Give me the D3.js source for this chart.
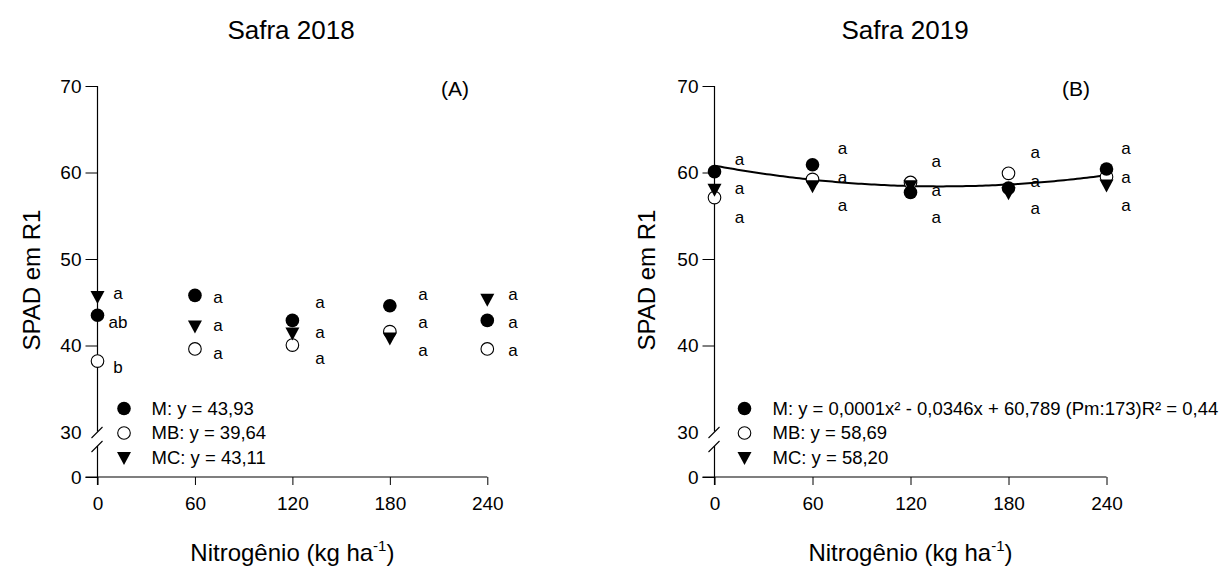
<!DOCTYPE html>
<html>
<head>
<meta charset="utf-8">
<script src="https://cdn.jsdelivr.net/npm/d3@7"></script>
<style>
  html, body { margin: 0; padding: 0; background: #fff; }
  svg { display: block; font-family: "Liberation Sans", Arial, sans-serif; }
  text { fill: #000; }
</style>
</head>
<body>
<svg id="chart" width="1223" height="566"></svg>
<script>
// Nitrogen doses (kg ha-1)
const doses = [0, 60, 120, 180, 240];
const yTicks = [30, 40, 50, 60, 70];

// Safra 2018 — SPAD readings at R1
const m2018  = [43.5, 45.8, 42.9, 44.6, 42.9];
const mb2018 = [38.2, 39.6, 40.05, 41.6, 39.6];
const mc2018 = [45.6, 42.2, 41.4, 40.8, 45.3];

// Safra 2019 — SPAD readings at R1
const m2019  = [60.1, 60.9, 57.7, 58.2, 60.4];
const mb2019 = [57.1, 59.2, 58.85, 59.9, 59.5];
const mc2019 = [58.0, 58.4, 58.4, 57.6, 58.5];

// Quadratic fit for M in 2019: y = a x^2 + b x + c
const fit2019 = { a: 0.000125, b: -0.0346, c: 60.789 };

// Tukey letters, anchored in data units (dose, SPAD)
const letters2018 = [
  { x: 12.6,  ys: [46.1, 42.75, 37.55], t: ["a", "ab", "b"] },
  { x: 74.2,  ys: [45.65, 42.4, 39.15], t: ["a", "a", "a"] },
  { x: 137,   ys: [45.05, 41.6, 38.5],  t: ["a", "a", "a"] },
  { x: 200.4, ys: [46.0, 42.75, 39.5],  t: ["a", "a", "a"] },
  { x: 255.8, ys: [46.0, 42.75, 39.5],  t: ["a", "a", "a"] }
];
const letters2019 = [
  { x: 15.3,  ys: [61.52, 58.17, 54.89], t: ["a", "a", "a"] },
  { x: 78.4,  ys: [62.8, 59.45, 56.24],  t: ["a", "a", "a"] },
  { x: 135.7, ys: [61.36, 57.98, 54.89], t: ["a", "a", "a"] },
  { x: 196.3, ys: [62.4, 59.05, 55.86],  t: ["a", "a", "a"] },
  { x: 252,   ys: [62.8, 59.45, 56.24],  t: ["a", "a", "a"] }
];

const legend2018 = ["M: y = 43,93", "MB: y = 39,64", "MC: y = 43,11"];
const legend2019 = ["M: y = 0,0001x\u00B2 - 0,0346x + 60,789 (Pm:173)R\u00B2 = 0,44", "MB: y = 58,69", "MC: y = 58,20"];

const svg = d3.select("#chart");

const triPath = "M-7,-6L7,-6L0,7Z";

function drawMarker(g, kind, cx, cy) {
  if (kind === "M") {
    g.append("circle").attr("cx", cx).attr("cy", cy).attr("r", 6.8).attr("fill", "#000");
  } else if (kind === "MB") {
    g.append("circle").attr("cx", cx).attr("cy", cy).attr("r", 6.3)
      .attr("fill", "#fff").attr("stroke", "#000").attr("stroke-width", 1.1);
  } else {
    g.append("path").attr("d", triPath).attr("transform", `translate(${cx},${cy})`).attr("fill", "#000");
  }
}

function panel(opts) {
  const x = d3.scaleLinear().domain([0, 240]).range([opts.x0, opts.x1]);
  const y = d3.scaleLinear().domain([30, 70]).range([432, 86]);
  const yLow = d3.scaleLinear().domain([0, 30]).range([477, 432]);
  const g = svg.append("g");

  // title
  g.append("text").attr("x", opts.titleX).attr("y", 39).attr("text-anchor", "middle")
    .style("font-size", "26px").text(opts.title);

  // panel tag
  g.append("text").attr("x", opts.tagX).attr("y", 96).attr("text-anchor", "middle")
    .style("font-size", "21px").text(opts.tag);

  // y axis (upper segment)
  const ya = g.append("g").attr("transform", `translate(${x(0)},0)`)
    .call(d3.axisLeft(y).tickValues(yTicks).tickSize(12).tickPadding(4).tickFormat(d3.format("d")));
  ya.select(".domain").remove();
  ya.selectAll(".tick").filter(d => d === 30).select("line").remove();
  ya.selectAll("text").style("font-size", "19px").attr("fill", "#000");
  ya.selectAll("line").attr("stroke", "#000");
  g.append("line").attr("x1", x(0)).attr("x2", x(0)).attr("y1", y(70)).attr("y2", y(30) - 0.5)
    .attr("stroke", "#000").attr("stroke-width", 1.2);

  // y axis (lower segment, below the break)
  const yl = g.append("g").attr("transform", `translate(${x(0)},0)`)
    .call(d3.axisLeft(yLow).tickValues([0]).tickSize(12).tickPadding(4));
  yl.select(".domain").remove();
  yl.selectAll("text").style("font-size", "19px").attr("fill", "#000");
  yl.selectAll("line").attr("stroke", "#000");
  g.append("line").attr("x1", x(0)).attr("x2", x(0)).attr("y1", y(30) + 14).attr("y2", yLow(0) + 8)
    .attr("stroke", "#000").attr("stroke-width", 1.2);

  // break marks
  [0, 14].forEach(off => {
    const cy = y(30) + off + 0.5;
    g.append("line").attr("x1", x(0) - 6).attr("y1", cy + 5.5).attr("x2", x(0) + 5).attr("y2", cy - 5.5)
      .attr("stroke", "#000").attr("stroke-width", 1.1);
  });

  // x axis
  const xa = g.append("g").attr("transform", `translate(0,${yLow(0)})`)
    .call(d3.axisBottom(x).tickValues(doses).tickSize(8).tickPadding(12).tickFormat(d3.format("d")));
  xa.select(".domain").remove();
  xa.selectAll("text").style("font-size", "19px").attr("fill", "#000");
  xa.selectAll("line").attr("stroke", "#000");
  g.append("line").attr("x1", x(0) - 12).attr("x2", x(240)).attr("y1", yLow(0)).attr("y2", yLow(0))
    .attr("stroke", "#000").attr("stroke-width", 1.2);

  // axis titles
  g.append("text").attr("transform", `translate(${opts.yTitleX},280) rotate(-90)`)
    .attr("text-anchor", "middle").attr("dy", "0.35em").style("font-size", "24px").text("SPAD em R1");
  const xt = g.append("text").attr("x", (opts.x0 + opts.x1) / 2).attr("y", 561)
    .attr("text-anchor", "middle").style("font-size", "24px");
  xt.append("tspan").text("Nitrogênio (kg ha");
  xt.append("tspan").attr("dy", -10).style("font-size", "15px").text("-1");
  xt.append("tspan").attr("dy", 10).text(")");

  // fitted curve
  if (opts.fit) {
    const f = opts.fit;
    const pts = d3.range(0, 240.5, 2).map(d => [d, f.a * d * d + f.b * d + f.c]);
    g.append("path").datum(pts)
      .attr("d", d3.line().x(d => x(d[0])).y(d => y(d[1])).curve(d3.curveLinear))
      .attr("fill", "none").attr("stroke", "#000").attr("stroke-width", 2);
  }

  // points: MB first, then M, then MC on top
  const pg = g.append("g");
  opts.mb.forEach((v, i) => drawMarker(pg, "MB", x(doses[i]), y(v)));
  opts.m.forEach((v, i) => drawMarker(pg, "M", x(doses[i]), y(v)));
  opts.mc.forEach((v, i) => drawMarker(pg, "MC", x(doses[i]), y(v)));

  // letters
  opts.letters.forEach(L => {
    L.ys.forEach((v, j) => {
      g.append("text").attr("x", x(L.x)).attr("y", y(v)).attr("dy", "0.35em")
        .attr("text-anchor", "middle").style("font-size", "17px").text(L.t[j]);
    });
  });

  // legend
  const legRows = [408.5, 433, 458];
  ["M", "MB", "MC"].forEach((k, i) => {
    drawMarker(g, k, x(0) + opts.legMarkDx, legRows[i]);
    g.append("text").attr("x", x(0) + opts.legTextDx).attr("y", legRows[i]).attr("dy", "0.35em")
      .style("font-size", "18.5px").text(opts.legend[i]);
  });
}

panel({
  x0: 97.5, x1: 487.3, title: "Safra 2018", titleX: 291, tag: "(A)", tagX: 455,
  yTitleX: 32, m: m2018, mb: mb2018, mc: mc2018, letters: letters2018,
  legend: legend2018, legMarkDx: 26.5, legTextDx: 54
});
panel({
  x0: 714.5, x1: 1106.5, title: "Safra 2019", titleX: 905, tag: "(B)", tagX: 1076,
  yTitleX: 647, m: m2019, mb: mb2019, mc: mc2019, letters: letters2019, fit: fit2019,
  legend: legend2019, legMarkDx: 30, legTextDx: 58
});
</script>
</body>
</html>
